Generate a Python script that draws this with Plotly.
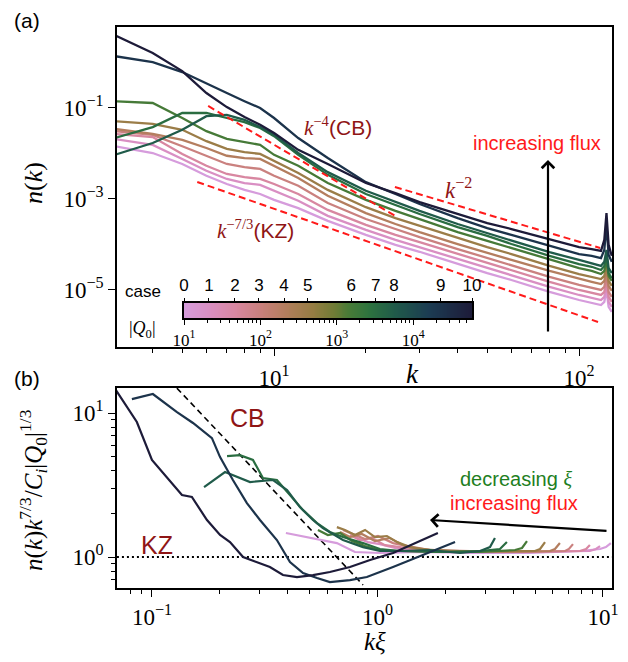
import numpy as np
import plotly.graph_objects as go
from plotly.colors import sample_colorscale

# the page body has an 8 px default margin: the figure is drawn 8 px lower/right
OFF = 8
W, H = 628 - OFF, 662 - OFF

# ---------------- panel (a): n(k), stored as log10 n ----------------
k_a = [3, 4, 5, 6, 7, 8, 9, 10, 12, 15, 20, 25, 30, 40, 50, 60, 80, 100, 110, 118, 121, 123, 125, 128]

logn_case0 = [-1.84, -1.99, -2.23, -2.49, -2.67, -2.80, -2.89, -3.02, -3.20, -3.48, -3.79, -4.01, -4.16, -4.43, -4.63, -4.78, -5.04, -5.22, -5.29, -5.33, -5.26, -5.00, -5.37, -5.48]
logn_case1 = [-1.68, -1.81, -2.12, -2.38, -2.56, -2.65, -2.69, -2.82, -3.04, -3.37, -3.68, -3.90, -4.06, -4.32, -4.52, -4.67, -4.93, -5.11, -5.18, -5.22, -5.15, -4.89, -5.26, -5.37]
logn_case2 = [-1.57, -1.64, -2.01, -2.27, -2.45, -2.52, -2.56, -2.67, -2.89, -3.24, -3.57, -3.79, -3.95, -4.21, -4.41, -4.56, -4.82, -5.00, -5.07, -5.11, -5.04, -4.78, -5.15, -5.26]
logn_case3 = [-1.51, -1.59, -1.84, -2.05, -2.23, -2.30, -2.34, -2.49, -2.71, -3.09, -3.44, -3.66, -3.84, -4.10, -4.30, -4.45, -4.71, -4.89, -4.96, -5.00, -4.93, -4.67, -5.04, -5.15]
logn_case4 = [-1.46, -1.57, -1.70, -1.88, -2.05, -2.10, -2.12, -2.27, -2.54, -2.93, -3.31, -3.55, -3.73, -3.99, -4.19, -4.34, -4.58, -4.76, -4.82, -4.87, -4.80, -4.54, -4.91, -5.02]
logn_case5 = [-1.29, -1.35, -1.48, -1.73, -1.90, -1.97, -2.01, -2.16, -2.43, -2.80, -3.18, -3.42, -3.59, -3.86, -4.06, -4.21, -4.47, -4.65, -4.71, -4.76, -4.69, -4.43, -4.80, -4.91]
logn_case6 = [-0.85, -0.89, -1.22, -1.51, -1.68, -1.75, -1.81, -2.03, -2.27, -2.65, -3.02, -3.26, -3.44, -3.73, -3.92, -4.08, -4.34, -4.52, -4.58, -4.65, -4.58, -4.32, -4.69, -4.80]
logn_case7 = [-1.66, -1.42, -1.11, -1.11, -1.22, -1.31, -1.44, -1.62, -2.03, -2.47, -2.89, -3.13, -3.33, -3.62, -3.81, -3.99, -4.25, -4.43, -4.49, -4.56, -4.47, -4.23, -4.63, -4.74]
logn_case8 = [-2.03, -1.77, -1.48, -1.18, -1.15, -1.26, -1.42, -1.59, -1.99, -2.41, -2.82, -3.07, -3.26, -3.55, -3.75, -3.90, -4.17, -4.34, -4.41, -4.47, -4.38, -4.12, -4.52, -4.63]
logn_case9 = [0.14, 0.01, -0.21, -0.45, -0.67, -0.85, -1.00, -1.22, -1.66, -2.10, -2.63, -2.89, -3.11, -3.42, -3.64, -3.79, -4.03, -4.21, -4.25, -4.30, -4.12, -3.57, -4.23, -4.38]
logn_case10 = [0.60, 0.21, -0.19, -0.67, -0.98, -1.20, -1.37, -1.55, -1.92, -2.23, -2.65, -2.87, -3.07, -3.33, -3.53, -3.66, -3.88, -4.06, -4.10, -4.14, -3.90, -3.31, -4.01, -4.25]

# reference power laws (end points)
cb_k = [6.08, 25.3]
cb_n = [0.1107, 4.02e-4]
k2_k = [24.9, 117.2]
k2_n = [1.837e-3, 8.38e-5]
kz_k = [5.6, 115.4]
kz_n = [2.366e-3, 1.98e-6]

# ---------------- colour bar: |Q0| of each case ----------------
log10_Q0_case = [1.0, 1.327, 1.667, 1.98, 2.31, 2.62, 3.19, 3.51, 3.75, 4.36, 4.77]
case_labels = ["0", "1", "2", "3", "4", "5", "6", "7", "8", "9", "10"]
log10_Q0_range = [1.0, 4.77]
Q0_tick_exp = [1, 2, 3, 4]

# ---------------- panel (b): compensated spectra (log10 k*xi, log10 value) ----------------
b_lx_case0 = [-0.406, -0.299, -0.180, -0.100, 0.011, 0.188, 0.410, 0.676, 0.898, 0.987, 1.013, 1.035]
b_ly_case0 = [0.167, 0.132, 0.097, 0.035, 0.028, 0.035, 0.028, 0.028, 0.042, 0.056, 0.069, 0.097]
b_lx_case1 = [-0.100, -0.042, 0.011, 0.078, 0.188, 0.410, 0.676, 0.942, 0.969, 0.987]
b_ly_case1 = [0.139, 0.104, 0.090, 0.063, 0.042, 0.035, 0.035, 0.042, 0.056, 0.076]
b_lx_case2 = [-0.122, -0.078, -0.024, 0.033, 0.100, 0.188, 0.366, 0.632, 0.898, 0.925, 0.942]
b_ly_case2 = [0.153, 0.118, 0.132, 0.083, 0.069, 0.049, 0.035, 0.035, 0.042, 0.056, 0.083]
b_lx_case3 = [-0.153, -0.113, -0.055, 0.002, 0.069, 0.135, 0.233, 0.410, 0.632, 0.832, 0.849, 0.867]
b_ly_case3 = [0.188, 0.160, 0.125, 0.146, 0.097, 0.076, 0.049, 0.042, 0.035, 0.042, 0.056, 0.090]
b_lx_case4 = [-0.166, -0.122, -0.069, -0.011, 0.055, 0.122, 0.188, 0.322, 0.543, 0.765, 0.787, 0.809]
b_ly_case4 = [0.174, 0.139, 0.160, 0.111, 0.132, 0.076, 0.056, 0.042, 0.035, 0.042, 0.056, 0.097]
b_lx_case5 = [-0.180, -0.144, -0.100, -0.055, -0.011, 0.042, 0.087, 0.144, 0.233, 0.366, 0.543, 0.698, 0.721, 0.743]
b_ly_case5 = [0.208, 0.188, 0.153, 0.188, 0.139, 0.146, 0.104, 0.069, 0.049, 0.042, 0.042, 0.042, 0.056, 0.104]
b_lx_case6 = [-0.264, -0.220, -0.166, -0.113, -0.055, 0.011, 0.100, 0.277, 0.455, 0.610, 0.641, 0.663]
b_ly_case6 = [0.188, 0.153, 0.167, 0.111, 0.076, 0.049, 0.042, 0.035, 0.035, 0.049, 0.063, 0.111]
b_lx_case7 = [-0.667, -0.610, -0.552, -0.508, -0.446, -0.388, -0.330, -0.268, -0.211, -0.153, -0.064, 0.011, 0.100, 0.277, 0.455, 0.543, 0.574]
b_ly_case7 = [0.701, 0.708, 0.674, 0.549, 0.535, 0.431, 0.326, 0.236, 0.174, 0.139, 0.097, 0.056, 0.042, 0.035, 0.042, 0.056, 0.104]
b_lx_case8 = [-0.769, -0.676, -0.565, -0.463, -0.401, -0.344, -0.286, -0.242, -0.153, -0.064, 0.011, 0.100, 0.233, 0.366, 0.455, 0.499, 0.521]
b_ly_case8 = [0.486, 0.590, 0.521, 0.535, 0.465, 0.347, 0.257, 0.201, 0.118, 0.069, 0.042, 0.042, 0.049, 0.028, 0.042, 0.069, 0.132]
b_lx_case9 = [-1.089, -0.996, -0.889, -0.818, -0.734, -0.698, -0.641, -0.579, -0.521, -0.446, -0.388, -0.330, -0.268, -0.211, -0.122, -0.047, 0.069, 0.220, 0.344]
b_ly_case9 = [1.097, 1.132, 1.007, 0.931, 0.826, 0.694, 0.535, 0.375, 0.257, 0.118, -0.035, -0.111, -0.146, -0.174, -0.160, -0.139, -0.069, 0.028, 0.104]
b_lx_case10 = [-1.177, -1.067, -1.0, -0.934, -0.867, -0.823, -0.756, -0.698, -0.654, -0.596, -0.534, -0.477, -0.419, -0.357, -0.286, -0.211, -0.122, -0.033, 0.069, 0.166, 0.268]
b_ly_case10 = [1.201, 0.938, 0.674, 0.556, 0.431, 0.417, 0.257, 0.153, 0.104, 0.0, -0.035, -0.069, -0.125, -0.139, -0.125, -0.104, -0.069, -0.021, 0.028, 0.097, 0.167]

cb_b_x = [0.129, 0.863]
cb_b_y = [14.9, 0.64]
kz_b_x = [0.06, 12.0]
kz_b_y = [1.0, 1.0]

# ---------------- colours ----------------
cmap = [
    [0.00, '#d69cdc'], [0.09, '#d98fc2'], [0.18, '#d887a0'], [0.27, '#c8807b'],
    [0.36, '#b17e5b'], [0.45, '#947d42'], [0.52, '#707c36'], [0.57, '#4a7b37'],
    [0.64, '#2e743e'], [0.73, '#205b4a'], [0.85, '#1c3c52'], [1.00, '#1d1b39'],
]
t_case = [(q - log10_Q0_range[0]) / (log10_Q0_range[1] - log10_Q0_range[0]) for q in log10_Q0_case]
colors = sample_colorscale(cmap, t_case)

logn_all = [logn_case0, logn_case1, logn_case2, logn_case3, logn_case4, logn_case5,
            logn_case6, logn_case7, logn_case8, logn_case9, logn_case10]
b_lx_all = [b_lx_case0, b_lx_case1, b_lx_case2, b_lx_case3, b_lx_case4, b_lx_case5,
            b_lx_case6, b_lx_case7, b_lx_case8, b_lx_case9, b_lx_case10]
b_ly_all = [b_ly_case0, b_ly_case1, b_ly_case2, b_ly_case3, b_ly_case4, b_ly_case5,
            b_ly_case6, b_ly_case7, b_ly_case8, b_ly_case9, b_ly_case10]

fig = go.Figure()

for i in range(11):
    fig.add_trace(go.Scatter(x=k_a, y=np.power(10.0, logn_all[i]), mode='lines',
                             line=dict(color=colors[i], width=2.3), xaxis='x', yaxis='y',
                             showlegend=False, hoverinfo='skip'))

RED_DASH = dict(color='#ff1a1a', width=2, dash='7px,4px')
for xs, ys in [(cb_k, cb_n), (k2_k, k2_n), (kz_k, kz_n)]:
    fig.add_trace(go.Scatter(x=xs, y=ys, mode='lines', line=RED_DASH, xaxis='x', yaxis='y',
                             showlegend=False, hoverinfo='skip'))

# colour bar gradient
grad = np.linspace(log10_Q0_range[0], log10_Q0_range[1], 300)
fig.add_trace(go.Heatmap(x=grad, y=[0], z=[grad], colorscale=cmap, zmin=log10_Q0_range[0],
                         zmax=log10_Q0_range[1], showscale=False, xaxis='x3', yaxis='y3',
                         hoverinfo='skip'))
fig.add_trace(go.Scatter(x=[log10_Q0_range[0]], y=[0], mode='markers', marker=dict(opacity=0),
                         xaxis='x4', yaxis='y3', showlegend=False, hoverinfo='skip'))

# panel (b)
fig.add_trace(go.Scatter(x=kz_b_x, y=kz_b_y, mode='lines', line=dict(color='black', width=2, dash='2px,3px'),
                         xaxis='x2', yaxis='y2', showlegend=False, hoverinfo='skip'))
fig.add_trace(go.Scatter(x=cb_b_x, y=cb_b_y, mode='lines', line=dict(color='black', width=1.6, dash='6px,4px'),
                         xaxis='x2', yaxis='y2', showlegend=False, hoverinfo='skip'))
for i in range(11):
    fig.add_trace(go.Scatter(x=np.power(10.0, b_lx_all[i]), y=np.power(10.0, b_ly_all[i]), mode='lines',
                             line=dict(color=colors[i], width=2.2), xaxis='x2', yaxis='y2',
                             showlegend=False, hoverinfo='skip'))

SERIF = 'Liberation Serif'
SANS = 'Liberation Sans'

def sup(e):
    return '10<sup>' + str(e).replace('-', '\u2212') + '</sup>'

def px_x(x):
    return (x - OFF) / W

def px_y(y):
    return 1 - (y - OFF) / H

XDOM = [px_x(117), px_x(612)]
axis_common = dict(showline=True, mirror=True, linecolor='black', linewidth=1.8, showgrid=False,
                   zeroline=False, ticks='outside', ticklen=7, tickwidth=1.3, tickcolor='black',
                   automargin=False,
                   tickfont=dict(family=SERIF, size=23, color='black'))

minor_a = [4, 5, 6, 7, 8, 9, 20, 30, 40, 50, 60, 70, 80, 90]
minor_bx = [0.08, 0.09, 0.2, 0.3, 0.4, 0.5, 0.6, 0.7, 0.8, 0.9, 2, 3, 4, 5, 6, 7, 8, 9]
minor_by = [0.7, 0.8, 0.9, 2, 3, 4, 5, 6, 7, 8, 9]

fig.update_layout(
    width=W, height=H, margin=dict(l=0, r=0, t=0, b=0, autoexpand=False),
    paper_bgcolor='white', plot_bgcolor='white', showlegend=False,
    font=dict(family=SANS, color='black'),
    xaxis=dict(axis_common, domain=XDOM, anchor='y', type='log', range=[0.485, 2.108],
               tickvals=[10, 100], ticktext=[sup(1), sup(2)], ticklabelstandoff=2,
               minor=dict(tickvals=minor_a, ticks='outside', ticklen=4, tickwidth=1, tickcolor='black')),
    yaxis=dict(axis_common, domain=[px_y(347), px_y(26.5)], anchor='x', type='log', range=[-6.253, 0.791],
               tickvals=[1e-1, 1e-3, 1e-5], ticktext=[sup(-1), sup(-3), sup(-5)]),
    xaxis2=dict(axis_common, domain=XDOM, anchor='y2', type='log', range=[-1.155, 1.040],
                tickvals=[0.1, 1, 10], ticktext=[sup(-1), sup(0), sup(1)], ticklabelstandoff=0,
                minor=dict(tickvals=minor_bx, ticks='outside', ticklen=4, tickwidth=1, tickcolor='black')),
    yaxis2=dict(axis_common, domain=[px_y(588), px_y(388)], anchor='x2', type='log', range=[-0.215, 1.174],
                tickvals=[1, 10], ticktext=[sup(0), sup(1)],
                minor=dict(tickvals=minor_by, ticks='outside', ticklen=4, tickwidth=1, tickcolor='black')),
    xaxis3=dict(domain=[px_x(184), px_x(472)], anchor='y3', range=log10_Q0_range, showline=True,
                mirror=True, linecolor='black', linewidth=2.2, showgrid=False, zeroline=False,
                automargin=False, ticklabelstandoff=0,
                ticks='outside', ticklen=5, tickwidth=1.2, tickcolor='black',
                tickvals=Q0_tick_exp, ticktext=[sup(e) for e in Q0_tick_exp],
                tickfont=dict(family=SERIF, size=17, color='black'),
                minor=dict(tickvals=[float(np.log10(m * 10 ** e)) for e in Q0_tick_exp for m in range(2, 10)
                                     if np.log10(m * 10 ** e) < log10_Q0_range[1]],
                           ticks='outside', ticklen=3, tickwidth=1, tickcolor='black')),
    yaxis3=dict(domain=[px_y(318), px_y(303)], anchor='x3', range=[-0.5, 0.5], showline=True, mirror=True,
                linecolor='black', linewidth=2.2, showgrid=False, zeroline=False, showticklabels=False,
                ticks='', automargin=False),
    xaxis4=dict(overlaying='x3', side='top', anchor='y3', range=log10_Q0_range, showline=False,
                showgrid=False, zeroline=False, ticks='outside', ticklen=4, tickwidth=1.2, tickcolor='black',
                automargin=False, ticklabelstandoff=0,
                tickvals=log10_Q0_case, ticktext=case_labels,
                tickfont=dict(family=SANS, size=17, color='black')),
)

DARKRED = '#8f1515'

def ann(x, y, text, size, color='black', family=SANS, angle=0):
    return dict(x=px_x(x), y=px_y(y), xref='paper', yref='paper', text=text, showarrow=False,
                font=dict(size=size, color=color, family=family), textangle=angle,
                xanchor='center', yanchor='middle')

def serif_span(t):
    return '<span style="font-family:Liberation Serif">' + t + '</span>'

annotations = [
    ann(27, 20, '(a)', 21),
    ann(27, 378, '(b)', 21),
    ann(33, 183, '<i>n</i>(<i>k</i>)', 26, family=SERIF, angle=-90),
    ann(33, 490, '<i>n</i>(<i>k</i>)<i>k</i><sup>7/3</sup>/<i>C</i><sub><i>i</i></sub>|<i>Q</i><sub>0</sub>|<sup>1/3</sup>',
        25, family=SERIF, angle=-90),
    ann(412, 374, '<i>k</i>', 27, family=SERIF),
    ann(375, 641, '<i>k\u03be</i>', 25, family=SERIF),
    ann(338, 126, serif_span('<i>k</i><sup>\u22124</sup>') + '(CB)', 21, color=DARKRED),
    ann(458, 188, '<i>k</i><sup>\u22122</sup>', 23, color=DARKRED, family=SERIF),
    ann(255, 230, serif_span('<i>k</i><sup>\u22127/3</sup>') + '(KZ)', 21, color=DARKRED),
    ann(537, 143, 'increasing flux', 20, color='#ff1a1a'),
    ann(143, 291, 'case', 17),
    ann(142, 329, '|<i>Q</i><sub>0</sub>|', 18, family=SERIF),
    ann(247, 418, 'CB', 25, color=DARKRED),
    ann(157, 545, 'KZ', 25, color=DARKRED),
    ann(516, 479, 'decreasing ' + serif_span('<i>\u03be</i>'), 20, color='#1f7f1f'),
    ann(514, 503, 'increasing flux', 20, color='#ff1a1a'),
    dict(x=px_x(548), y=px_y(160), xref='paper', yref='paper', text='', showarrow=True,
         ax=0, ay=173, axref='pixel', ayref='pixel', arrowhead=4, arrowsize=1.1, arrowwidth=2.2,
         arrowcolor='black'),
    dict(x=px_x(430), y=px_y(520), xref='paper', yref='paper', text='', showarrow=True,
         ax=178, ay=11, axref='pixel', ayref='pixel', arrowhead=4, arrowsize=1.1, arrowwidth=2.2,
         arrowcolor='black'),
]
fig.update_layout(annotations=annotations)

fig.write_html('out.html')
